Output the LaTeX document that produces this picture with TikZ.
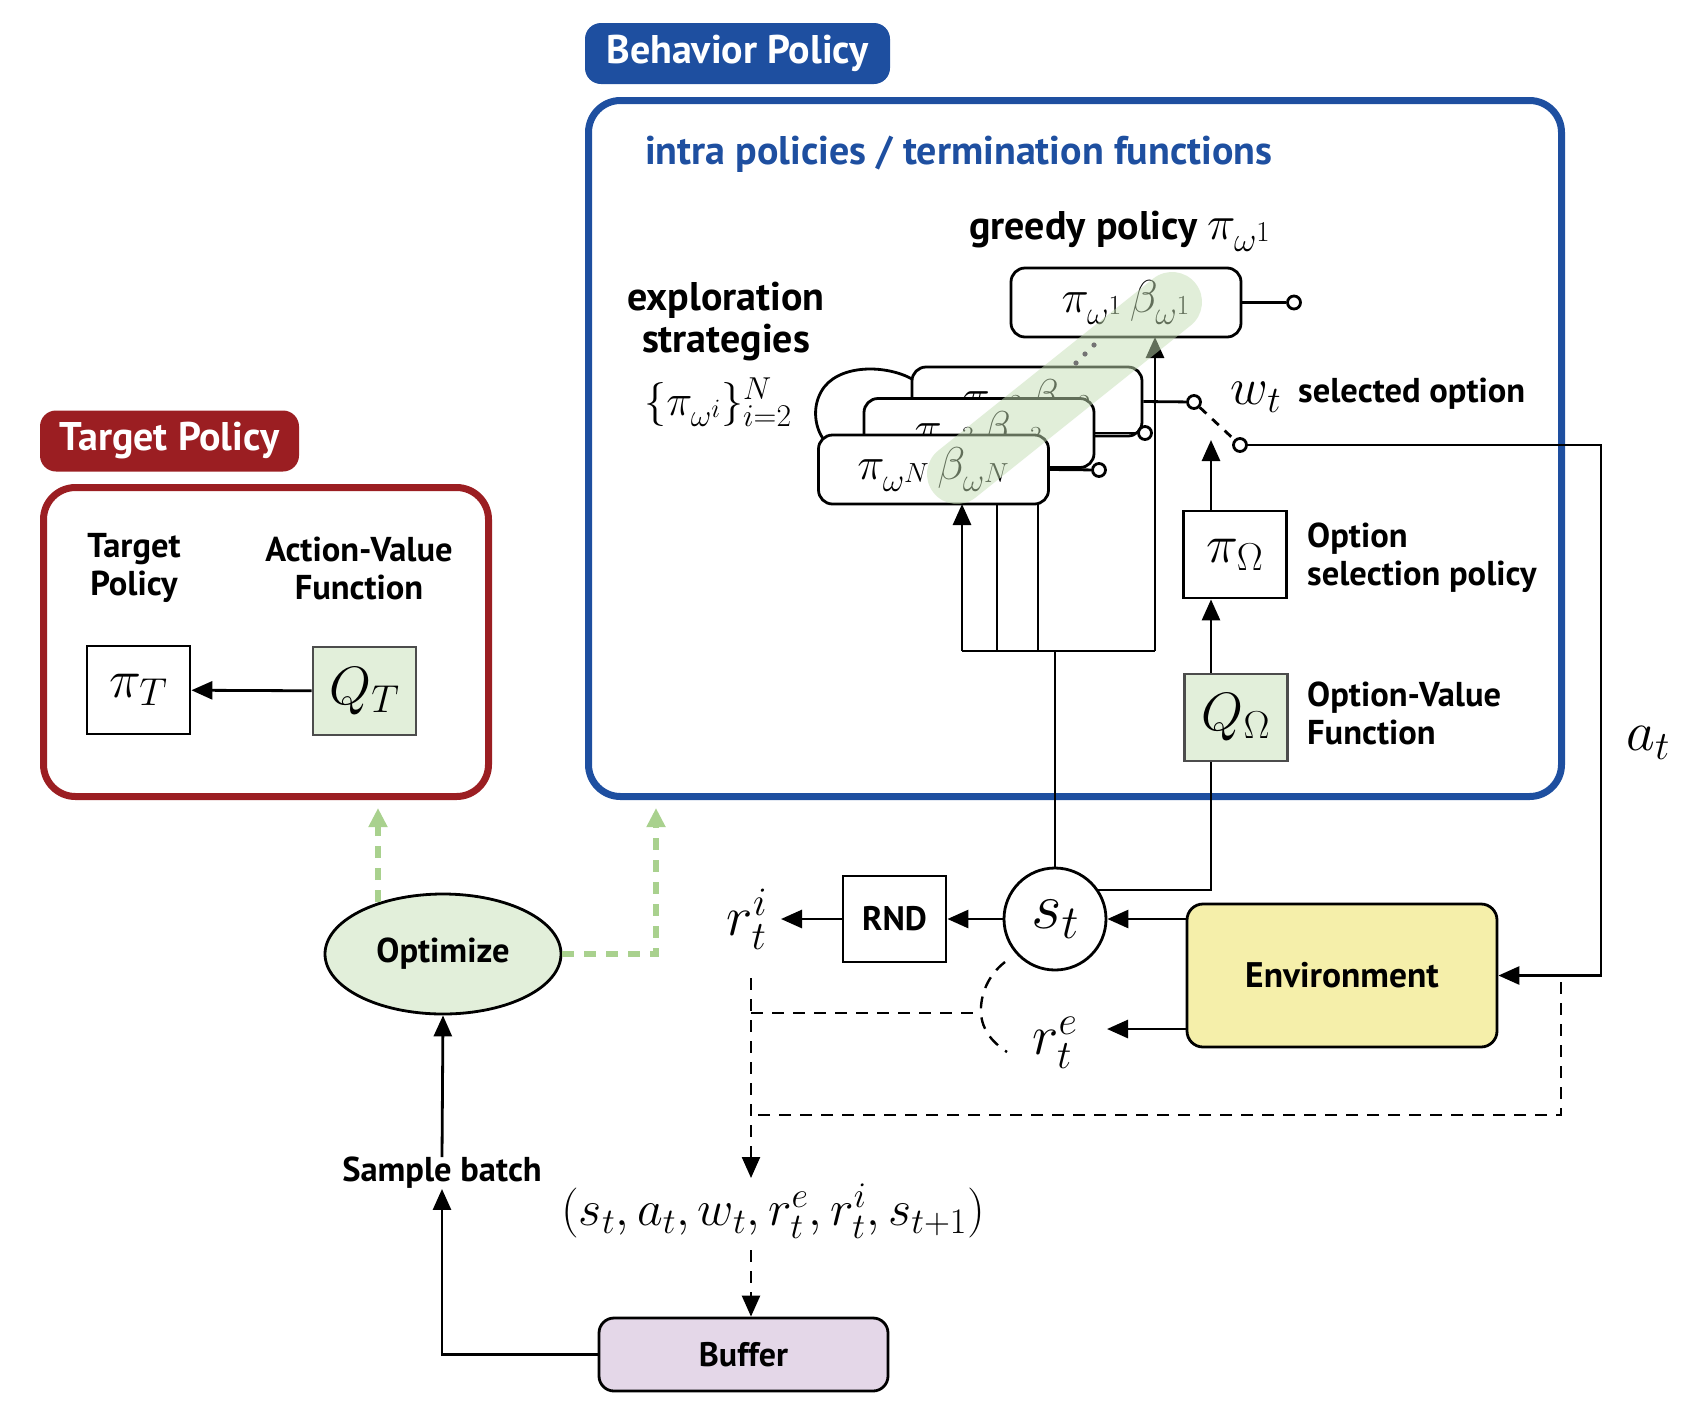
\RequirePackage{fix-cm}
\documentclass[tikz,border=0pt]{standalone}
\usepackage[no-math]{fontspec}
\newfontfamily\lab{PT Sans}
\usetikzlibrary{arrows.meta,shapes.geometric,calc}
\renewcommand\defaultscriptratio{0.72}
\renewcommand\defaultscriptscriptratio{0.6}
\definecolor{bpblue}{HTML}{1E4FA0}
\definecolor{tpred}{HTML}{9B1E22}
\definecolor{lgreen}{HTML}{E2EFDA}
\definecolor{dgreen}{HTML}{A9D18E}
\definecolor{bandg}{HTML}{C5DFB5}
\definecolor{envy}{HTML}{F5EFAA}
\definecolor{bufp}{HTML}{E4D7E8}
\tikzset{
  base/.style={line width=2.8pt},
  arr/.style={base, -{Triangle[length=21pt,width=18pt]}},
  gdash/.style={dgreen, line width=6pt, dash pattern=on 12pt off 10pt, -{Triangle[length=19pt,width=18pt]}},
  bdash/.style={line width=2.4pt, dash pattern=on 12pt off 9pt},
  bdarr/.style={bdash, -{Triangle[length=21pt,width=18pt]}},
  tag/.style={rounded corners=16pt, text=white, inner sep=0pt, font=\lab\bfseries\fontsize{40}{46}\selectfont},
  frame/.style={line width=7pt, rounded corners=32pt, inner sep=0pt},
  lbl/.style={font=\lab\bfseries\fontsize{34.5}{38}\selectfont, align=center, inner sep=0pt},
  lbll/.style={font=\lab\bfseries\fontsize{34.5}{38}\selectfont, align=left, inner sep=0pt},
  bx/.style={draw, line width=2.8pt, minimum width=103pt, minimum height=87pt, inner sep=0pt, font=\fontsize{54}{60}\selectfont},
  gbx/.style={bx, fill=lgreen, draw=black!70},
  pol/.style={draw, fill=white, line width=2.8pt, rounded corners=14pt, minimum width=230pt, minimum height=69pt, inner sep=0pt, font=\fontsize{46}{52}\selectfont},
  port/.style={circle, draw, fill=white, line width=2.8pt, minimum size=13pt, inner sep=0pt},
  mth/.style={inner sep=0pt, font=\fontsize{56}{62}\selectfont},
}
\begin{document}
\begin{tikzpicture}[x=1pt,y=-1pt]
\useasboundingbox (0,0) rectangle (1689,1414);

% ---------- frames and tags
\node[frame, draw=bpblue, minimum width=973pt, minimum height=696pt] (bpbox) at (1075,448.5) {};
\node[tag, fill=bpblue, minimum width=305pt, minimum height=61pt] (bptag) at (737.5,53.5) {Behavior Policy};
\node[frame, draw=tpred, minimum width=445pt, minimum height=309pt] (tpbox) at (266,642) {};
\node[tag, fill=tpred, minimum width=259pt, minimum height=61pt] (tptag) at (169.5,441) {Target Policy};

% ---------- target policy content
\node[lbl] (tplab) at (134,568) {Target\\Policy};
\node[lbl] (avlab) at (359,568) {Action-Value\\Function};
\node[bx, minimum height=88pt] (piT) at (138.5,690) {$\pi_T$};
\node[gbx, minimum height=88pt] (QT) at (364.5,691) {$Q_T$};
\draw[arr] (QT) -- (piT);

% ---------- behavior policy content
\node[anchor=west, inner sep=0pt, text=bpblue, font=\lab\bfseries\fontsize{40}{46}\selectfont] (intra) at (645,154) {intra policies / termination functions};
\node[inner sep=0pt, font=\lab\bfseries\fontsize{40}{46}\selectfont] (greedylab) at (1120,231) {greedy policy \fontsize{48}{54}\selectfont$\pi_{\omega^1}$};
\node[lbl, font=\lab\bfseries\fontsize{40}{42}\selectfont] (explab) at (726,322) {exploration\\strategies};
\node[mth, font=\fontsize{44}{50}\selectfont] (explset) at (718,402) {$\{\pi_{\omega^i}\}_{i=2}^N$};

% bracket curve behind stacked boxes
\draw[base] (912,379) .. controls (885,364) and (836,364) .. (821,392) .. controls (812,408) and (815,428) .. (824,440);

% stacked policy boxes
\node[pol] (greedy) at (1126,302.5) {$\pi_{\omega^1}\,\beta_{\omega^1}$};
\node[pol] (b2) at (1027,401.5) {$\pi_{\omega^2}\,\beta_{\omega^2}$};
\node[pol] (b3) at (979,433) {$\pi_{\omega^3}\,\beta_{\omega^3}$};
\node[pol] (bN) at (933.5,469.5) {$\pi_{\omega^N}\,\beta_{\omega^N}$};

% output ports
\node[port] (og) at (1294,302.5) {};
\node[port] (sw1) at (1194,402) {};
\node[port] (o3) at (1145,433) {};
\node[port] (oN) at (1099,470) {};
\draw[base] (greedy.east) -- (og);
\draw[base] (b2.east) -- (sw1);
\draw[base] (b3.east) -- (o3);
\draw[base] (bN.east) -- (oN);

% switch
\node[port] (sw2) at (1240,445) {};
\draw[line width=2.8pt, dash pattern=on 9pt off 8pt] (sw1) -- (sw2);
\node[mth, font=\fontsize{52}{58}\selectfont] (wt) at (1256,397) {$w_t$};
\node[anchor=west, inner sep=0pt, font=\lab\bfseries\fontsize{34.5}{38}\selectfont] (selopt) at (1298,394) {selected option};

% option policy
\node[bx] (po) at (1235,554.5) {$\pi_\Omega$};
\node[gbx] (qo) at (1236,717.5) {$Q_\Omega$};
\coordinate (vx) at (1211,0);
\node[lbll, anchor=west] (polab) at (1307,558) {Option\\selection policy};
\node[lbll, anchor=west] (qolab) at (1307,713) {Option-Value\\Function};
\draw[arr] (vx |- qo.north) -- (vx |- po.south);
\draw[arr] (vx |- po.north) -- (1211,440);

% ---------- state, RND, environment
\node[circle, draw, line width=2.8pt, fill=white, minimum size=102pt, inner sep=0pt, font=\fontsize{66}{72}\selectfont] (st) at (1055,919) {$s_t$};
\node[bx, font=\lab\bfseries\fontsize{34}{38}\selectfont, minimum height=86pt] (rnd) at (894.5,919) {RND};
\node[mth] (rti) at (747,919) {$r_t^i$};
\node[draw, line width=2.8pt, rounded corners=16pt, fill=envy, minimum width=310pt, minimum height=143pt, font=\lab\bfseries\fontsize{35.5}{40}\selectfont] (env) at (1342,975.5) {Environment};
\node[mth] (rte) at (1055,1043) {$r_t^e$};
\node[mth] (at) at (1648,743) {$a_t$};

% s_t bus up to the policies
\coordinate (bus) at (1055,651);
\draw[base] (st.north) -- (bus);
\draw[base] (962,651) -- (1155,651);
\draw[arr] (962,651) -- (962 ,504);
\draw[base] (997,651) -- (997,504);
\draw[base] (1038,651) -- (1038,504);
\draw[arr] (1155,651) -- (1155,337);

% Q_Omega input from s_t
\draw[base] (vx |- qo.south) -- (1211,890) -- (1097,890);

% connectors around s_t
\draw[arr] (env.west |- st.east) -- (st.east);
\draw[arr] (st.west) -- (rnd.east);
\draw[arr] (rnd.west) -- (781,919);
\draw[arr] (env.west |- 0,1029) -- (1107,1029);

% action loop
\coordinate (atc) at (1601,445);
\draw[arr] (sw2) -- (atc) |- (env.east);

% dashed transition gathering
\coordinate (dv) at (751,978);
\node[mth, font=\fontsize{50}{56}\selectfont] (tup) at (773,1211) {$(s_t, a_t, w_t, r_t^e, r_t^i, s_{t+1})$};
\draw[bdarr] (dv) -- (751,1178);
\draw[bdash] (dv |- 0,1013) -- (980,1013);
\draw[bdash] (1005,962) .. controls (988,975) and (980,995) .. (981,1013) .. controls (982,1030) and (992,1042) .. (1007,1052);
\draw[bdash] (1561,982) |- (dv |- 0,1115);
\node[draw, line width=2.8pt, rounded corners=15pt, fill=bufp, minimum width=289pt, minimum height=73pt, font=\lab\bfseries\fontsize{34}{38}\selectfont] (buf) at (743.5,1354.5) {Buffer};
\draw[bdarr] (751,1250) -- (dv |- buf.north);

% ---------- optimize
\node[ellipse, draw, line width=2.8pt, fill=lgreen, minimum width=236pt, minimum height=120pt, inner sep=0pt, font=\lab\bfseries\fontsize{34.5}{38}\selectfont] (opt) at (443,954) {Optimize};
\node[lbl] (sb) at (442,1173) {Sample batch};
\draw[arr] (sb.north) -- (opt.south);
\draw[arr] (buf.west) -| (sb.south);
\coordinate (g1) at (378,808);
\coordinate (g2) at (656,808);
\draw[gdash] ($(opt.center)+(-65,-52)$) -- (g1);
\draw[gdash] (opt.east) -| (g2);

% ---------- highlight band and dots
\draw[bandg, opacity=0.5, line width=60pt, line cap=round] (957,474) -- (1172,302);
\fill[black!55] (1076,363) circle (2.6pt) (1085,354) circle (2.6pt) (1094,345) circle (2.6pt);
\end{tikzpicture}
\end{document}
